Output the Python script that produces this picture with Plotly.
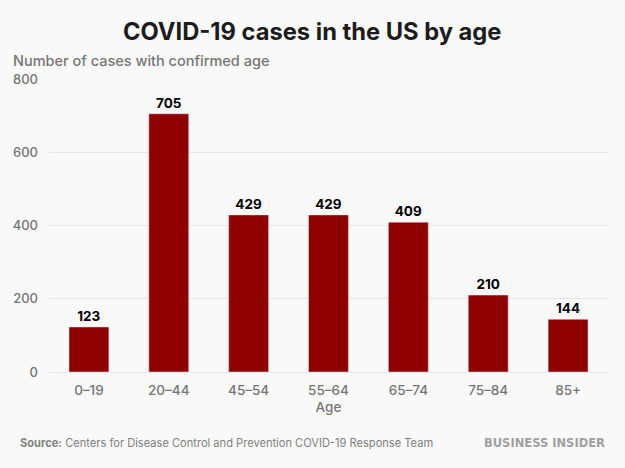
import plotly.graph_objects as go

ages = ["0–19", "20–44", "45–54", "55–64", "65–74", "75–84", "85+"]
cases = [123, 705, 429, 429, 409, 210, 144]
tick_vals = [0, 200, 400, 600, 800]
BAR = "#8f0000"
GREY = "#767676"
BG = "#f9f9f9"

fig = go.Figure(go.Bar(
    x=ages, y=cases, marker_color=BAR, width=0.5,
    text=[str(v) for v in cases], textposition="outside", cliponaxis=False,
    textfont=dict(family="Inter", size=13.5, color="#000000", weight=700),
))
fig.update_layout(
    width=625, height=468, autosize=False, paper_bgcolor=BG, plot_bgcolor=BG,
    margin=dict(l=49, r=17, t=79, b=96), showlegend=False, font=dict(family="Inter"),
    xaxis=dict(title=dict(text="Age", font=dict(size=13.5, color=GREY, family="Inter", weight=500), standoff=6),
               tickfont=dict(size=13.5, color=GREY, family="Inter", weight=500), ticks="", showline=False,
               ticklabelstandoff=8),
    yaxis=dict(range=[0, 800], tickvals=tick_vals, tickfont=dict(size=13, color=GREY, family="Inter", weight=500),
               gridcolor="#e6e6e6", gridwidth=1, zeroline=True, zerolinecolor="#e6e6e6", zerolinewidth=1,
               ticks="", ticklen=0, ticklabelstandoff=10),
)
fig.add_annotation(text="<b>COVID-19 cases in the US by age</b>", xref="paper", yref="paper", x=0.47, y=1.163,
                   xanchor="center", yanchor="middle", showarrow=False,
                   font=dict(family="Inter", size=23.7, color="#1c1c1c"))
fig.add_annotation(text="Number of cases with confirmed age", xref="paper", yref="paper", x=-0.068, y=1.06,
                   xanchor="left", yanchor="middle", showarrow=False,
                   font=dict(family="Inter", size=14.5, color=GREY, weight=500))
fig.add_annotation(text="<b>Source:</b> Centers for Disease Control and Prevention COVID-19 Response Team",
                   xref="paper", yref="paper", x=-0.056, y=-0.242, xanchor="left", yanchor="middle", showarrow=False,
                   font=dict(family="Inter", size=11.1, color="#808080"))
fig.add_annotation(text="<b>BUSINESS INSIDER</b>", xref="paper", yref="paper", x=0.998, y=-0.242,
                   xanchor="right", yanchor="middle", showarrow=False,
                   font=dict(family="DejaVu Sans", size=11.5, color="#a0a0a0"))
fig.write_html("out.html", config={"displayModeBar": False},
               post_script="document.body.style.margin='0';document.body.style.background='#f9f9f9';")
